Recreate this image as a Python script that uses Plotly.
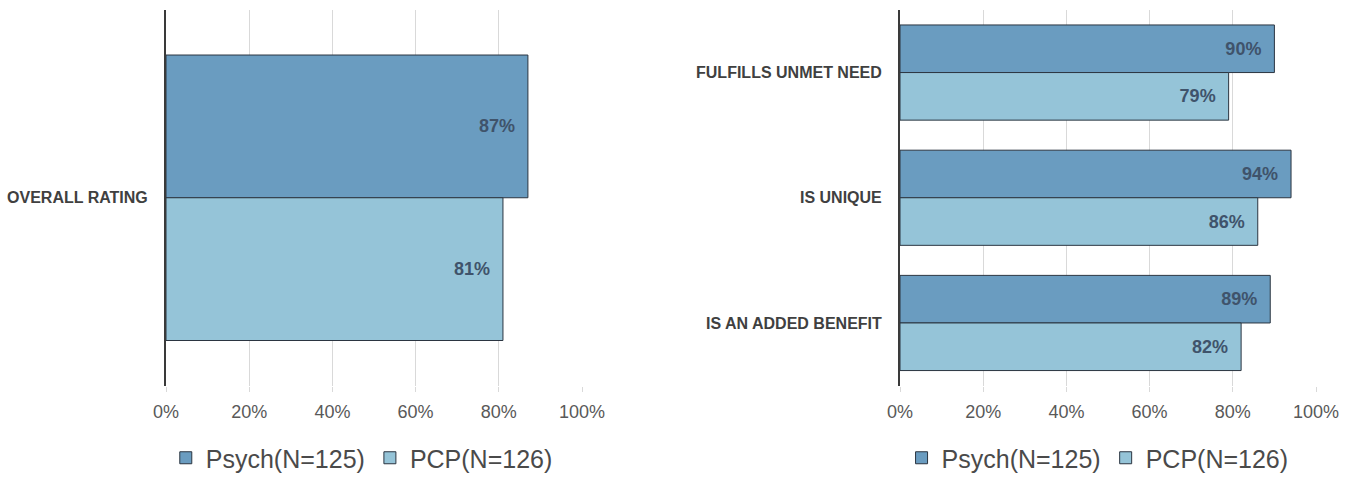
import plotly.graph_objects as go

# Survey ratings: share of respondents rating the concept favourably
left_categories = ["OVERALL RATING"]
left_psych = [87]
left_pcp = [81]

right_categories = ["FULFILLS UNMET NEED", "IS UNIQUE", "IS AN ADDED BENEFIT"]
right_psych = [90, 94, 89]
right_pcp = [79, 86, 82]

series_names = ["Psych(N=125)", "PCP(N=126)"]
x_ticks = [0, 20, 40, 60, 80, 100]
x_tick_text = [f"{t}%" for t in x_ticks]

PSYCH_COLOR = "#6a9cc0"
PCP_COLOR = "#95c4d8"
OUTLINE = "#2b3541"
LABEL_COLOR = "#3f536b"
FONT = "Liberation Sans, Arial, sans-serif"

fig = go.Figure()


def add_pair(cats, psych, pcp, xaxis, yaxis, legend):
    for name, vals, color in [(series_names[0], psych, PSYCH_COLOR),
                              (series_names[1], pcp, PCP_COLOR)]:
        fig.add_trace(go.Bar(
            y=cats, x=vals, name=name, orientation="h",
            xaxis=xaxis, yaxis=yaxis, legend=legend,
            marker=dict(color=color, line=dict(color=OUTLINE, width=1)),
            text=[f"{v}%" for v in vals],
            texttemplate="%{text}\u00a0\u00a0", textposition="inside",
            insidetextanchor="end", constraintext="none",
            textfont=dict(family=FONT, size=18, color=LABEL_COLOR, weight="bold"),
            hoverinfo="skip",
        ))


add_pair(left_categories, left_psych, left_pcp, "x", "y", "legend")
add_pair(right_categories, right_psych, right_pcp, "x2", "y2", "legend2")

y_dom = [1 - 388 / 481, 1 - 10 / 481]

xaxis_common = dict(
    range=[0, 100], tickmode="array", tickvals=x_ticks, ticktext=x_tick_text,
    showgrid=True, gridcolor="#d9d9d9", gridwidth=1,
    ticks="outside", ticklen=5, tickcolor="#d9d9d9", ticklabelstandoff=5,
    zeroline=False, showline=False, fixedrange=True, automargin=False,
    tickfont=dict(family=FONT, size=18, color="#595959"),
)
yaxis_common = dict(
    autorange="reversed", showgrid=False, zeroline=False,
    showline=True, linecolor="#3a3a3a", linewidth=2,
    ticks="", ticklabelstandoff=13, fixedrange=True, automargin=False,
    tickfont=dict(family=FONT, size=16, color="#404040", weight="bold"),
)

legend_common = dict(
    orientation="h", yanchor="middle", y=1 - 461 / 481, xanchor="center",
    font=dict(family=FONT, size=25, color="#4a4a4a"),
    bgcolor="rgba(0,0,0,0)", itemclick=False, itemdoubleclick=False,
)

fig.update_layout(
    width=1355, height=481,
    margin=dict(l=0, r=0, t=0, b=0),
    paper_bgcolor="white", plot_bgcolor="white",
    barmode="group", bargap=0.24, bargroupgap=0,
    showlegend=True,
    xaxis=dict(domain=[166 / 1355, 582 / 1355], anchor="y", **xaxis_common),
    yaxis=dict(domain=y_dom, anchor="x", **yaxis_common),
    xaxis2=dict(domain=[900 / 1355, 1316 / 1355], anchor="y2", **xaxis_common),
    yaxis2=dict(domain=y_dom, anchor="x2", **yaxis_common),
    legend=dict(x=0.267, **legend_common),
    legend2=dict(x=0.81, **legend_common),
)

fig.write_html("out.html")
